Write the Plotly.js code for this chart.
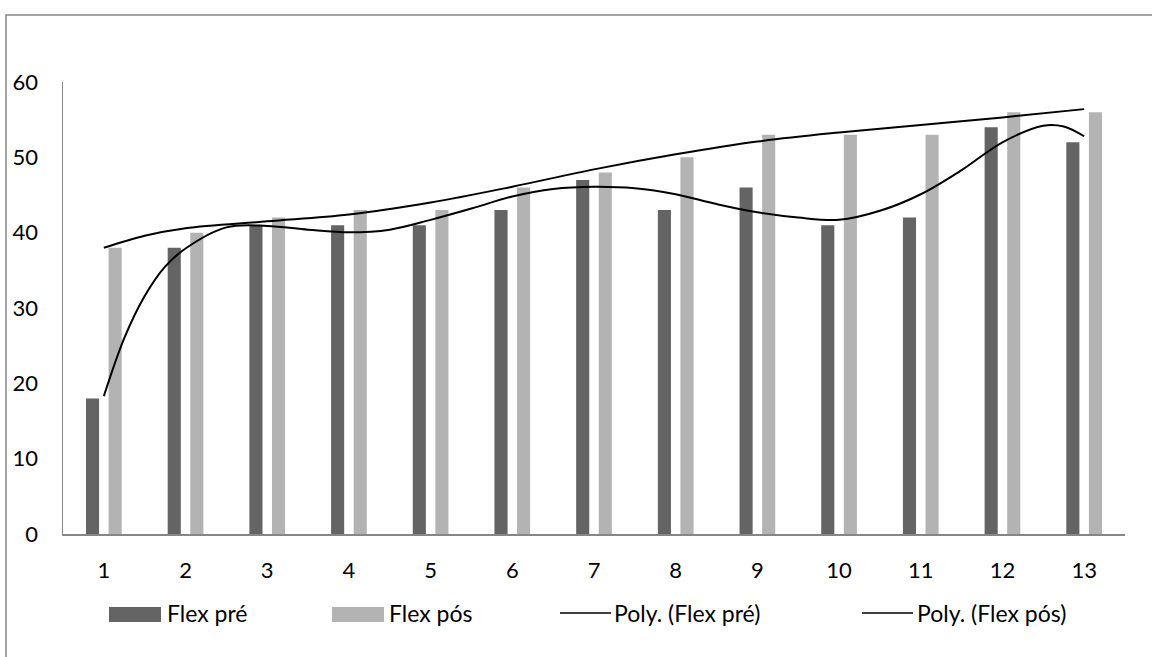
<!DOCTYPE html>
<html>
<head>
<meta charset="utf-8">
<script src="https://cdn.plot.ly/plotly-3.0.1.min.js"></script>
<style>
html,body{margin:0;padding:0;background:#fff;}
#chart{width:1152px;height:657px;}
</style>
</head>
<body>
<div id="chart"></div>
<script>
// Categories and values
var categories = [1,2,3,4,5,6,7,8,9,10,11,12,13];
var tickLabels = ["1","2","3","4","5","6","7","8","9","10","11","12","13"];
var flexPre = [18,38,41,41,41,43,47,43,46,41,42,54,52];
var flexPos = [38,40,42,43,43,46,48,50,53,53,53,56,56];

// Trend curves
var trendPreX = [1,1.25,1.5,1.75,2,2.5,3,3.5,4,4.5,5,5.5,6,6.5,7,7.5,8,8.5,9,9.5,10,10.5,11,11.5,12,12.5,12.75,13];
var trendPreY = [18.3,26.0,31.6,35.5,37.9,40.7,40.9,40.4,40.05,40.4,41.7,43.2,44.8,45.8,46.1,45.9,45.1,43.8,42.7,42.0,41.7,42.9,45.1,48.3,52.0,54.2,54.1,52.8];
var trendPosX = [1,1.5,2,3,4,5,6,7,8,9,10,11,12,13];
var trendPosY = [38.0,39.6,40.6,41.5,42.4,44.0,46.1,48.4,50.4,52.1,53.3,54.3,55.3,56.4];

var legendNames = ["Flex pré","Flex pós","Poly. (Flex pré)","Poly. (Flex pós)"];

var darkColor = "#646464";
var lightColor = "#b3b3b3";
var FONT = "Lato, Carlito, Calibri, sans-serif";

var traces = [
  {type:"bar", x:categories, y:flexPre, name:legendNames[0], marker:{color:darkColor}, showlegend:false, hoverinfo:"x+y"},
  {type:"bar", x:categories, y:flexPos, name:legendNames[1], marker:{color:lightColor}, showlegend:false, hoverinfo:"x+y"},
  {type:"scatter", mode:"lines", x:trendPreX, y:trendPreY, name:legendNames[2], line:{color:"#000", width:2, shape:"spline", smoothing:1}, showlegend:false},
  {type:"scatter", mode:"lines", x:trendPosX, y:trendPosY, name:legendNames[3], line:{color:"#000", width:2, shape:"spline", smoothing:1}, showlegend:false}
];

// custom legend (paper coordinates)
var plotL = 63, plotR = 1125, plotT = 82, plotB = 534;
function px2x(p){ return (p - plotL) / (plotR - plotL); }
function py2y(p){ return (plotB - p) / (plotB - plotT); }
var legY = 613;

var shapes = [
  {type:"rect", xref:"paper", yref:"paper", x0:px2x(6), x1:px2x(1170), y0:py2y(680), y1:py2y(15), line:{color:"#878787", width:1.5}, fillcolor:"rgba(0,0,0,0)", layer:"below"},
  {type:"rect", xref:"paper", yref:"paper", x0:px2x(109), x1:px2x(161), y0:py2y(622), y1:py2y(607), fillcolor:darkColor, line:{width:0}},
  {type:"rect", xref:"paper", yref:"paper", x0:px2x(332), x1:px2x(384), y0:py2y(622), y1:py2y(607), fillcolor:lightColor, line:{width:0}},
  {type:"line", xref:"paper", yref:"paper", x0:px2x(560), x1:px2x(611), y0:py2y(legY), y1:py2y(legY), line:{color:"#000", width:1.5}},
  {type:"line", xref:"paper", yref:"paper", x0:px2x(862), x1:px2x(913), y0:py2y(legY), y1:py2y(legY), line:{color:"#000", width:1.5}}
];
var legTextX = [165, 387, 612, 915];
var annotations = legendNames.map(function(n, i){
  return {xref:"paper", yref:"paper", x:px2x(legTextX[i]), y:py2y(legY), xanchor:"left", yanchor:"middle",
          text:n, showarrow:false, font:{family:FONT, size:23, color:"#000"}};
});

var layout = {
  width:1152, height:657,
  margin:{l:plotL, r:1152-plotR, t:plotT, b:657-plotB, pad:0},
  paper_bgcolor:"#fff", plot_bgcolor:"#fff",
  barmode:"group", bargap:0.447, bargroupgap:0.42,
  showlegend:false,
  font:{family:FONT, size:22, color:"#000"},
  xaxis:{range:[0.5,13.5], tickvals:categories, ticktext:tickLabels, showgrid:false, zeroline:false,
         showline:true, linecolor:"#868686", linewidth:1.5, ticks:"", ticklabelstandoff:16,
         tickfont:{family:FONT, size:22, color:"#000"}, fixedrange:true},
  yaxis:{range:[0,60], tickvals:[0,10,20,30,40,50,60], showgrid:false, zeroline:false,
         showline:true, linecolor:"#868686", linewidth:1.5, ticks:"", ticklabelstandoff:19,
         tickfont:{family:FONT, size:22, color:"#000"}, fixedrange:true},
  shapes:shapes,
  annotations:annotations
};

Plotly.newPlot("chart", traces, layout, {displayModeBar:false, staticPlot:true});
</script>
</body>
</html>
